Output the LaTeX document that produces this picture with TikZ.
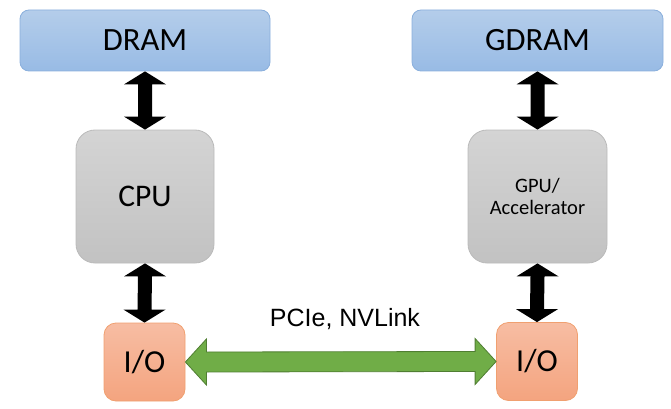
\documentclass[tikz,border=0pt]{standalone}
\usepackage{fontspec}
\setmainfont{Carlito}
\newfontfamily\arialfont{Liberation Sans}
\usetikzlibrary{calc}
\definecolor{bluetop}{HTML}{B4CDEA}
\definecolor{bluebot}{HTML}{98BBE5}
\definecolor{blueline}{HTML}{8AAFDC}
\definecolor{graytop}{HTML}{D4D4D4}
\definecolor{graybot}{HTML}{C2C2C2}
\definecolor{grayline}{HTML}{BABABA}
\definecolor{orangetop}{HTML}{F7BDA3}
\definecolor{orangebot}{HTML}{F4A47F}
\definecolor{orangeline}{HTML}{F0A070}
\definecolor{greenfill}{HTML}{70AD47}
\definecolor{greenline}{HTML}{507E32}
\tikzset{
  membox/.style={draw=blueline, line width=0.8pt, top color=bluetop, bottom color=bluebot,
    rounded corners=9pt, minimum width=250pt, minimum height=61pt, inner sep=0pt,
    font=\fontsize{32.5}{34}\selectfont},
  procbox/.style={draw=grayline, line width=0.8pt, top color=graytop, bottom color=graybot,
    rounded corners=19pt, minimum width=138pt, minimum height=133pt, inner sep=0pt, align=center},
  iobox/.style={draw=orangeline, line width=0.8pt, top color=orangetop, bottom color=orangebot,
    rounded corners=12pt, minimum width=81pt, minimum height=78pt, inner sep=0pt,
    font=\fontsize{32}{34}\selectfont},
  blackarrow/.style={fill=black},
  greenarrow/.style={fill=greenfill, draw=greenline, line width=0.8pt, line join=miter},
}
\newcommand{\vdarrow}[2]{%
  \fill[blackarrow] (#1) -- ++(21,13) -- ++(-14,0) -- ($(#2)+(7,-13)$) -- ++(14,0) -- (#2)
    -- ++(-21,-13) -- ++(14,0) -- ($(#1)+(-7,13)$) -- ++(-14,0) -- cycle;}
\begin{document}
\begin{tikzpicture}[x=1pt,y=-1pt]
\useasboundingbox (0,0) rectangle (671,409);
\node[membox] (dram) at (145,40.5) {DRAM};
\node[membox, minimum width=251pt] (gdram) at (537.5,40.5) {GDRAM};
\node[procbox, font=\fontsize{31.5}{34}\selectfont] (cpu) at (145,196.5) {CPU};
\node[procbox, minimum width=139pt, font=\fontsize{20.5}{22}\selectfont] (gpu) at (537.5,196.5) {GPU/\\Accelerator};
\node[iobox] (io1) at (144.5,362) {I/O};
\node[iobox] (io2) at (537,361.5) {I/O};
\vdarrow{dram.south}{cpu.north}
\vdarrow{cpu.south}{io1.north}
\vdarrow{gdram.south}{gpu.north}
\vdarrow{gpu.south}{io2.north}
\draw[greenarrow] (io1.east) -- ++(21,-23) -- ++(0,13) -- ($(io2.west)+(-21,-10)$) -- ++(0,-13)
  -- (io2.west) -- ++(-21,23) -- ++(0,-13) -- ($(io1.east)+(21,10)$) -- ++(0,13) -- cycle;
\node[font=\arialfont\fontsize{25}{28}\selectfont, anchor=base] (lbl) at (345,326) {PCIe, NVLink};
\end{tikzpicture}
\end{document}
